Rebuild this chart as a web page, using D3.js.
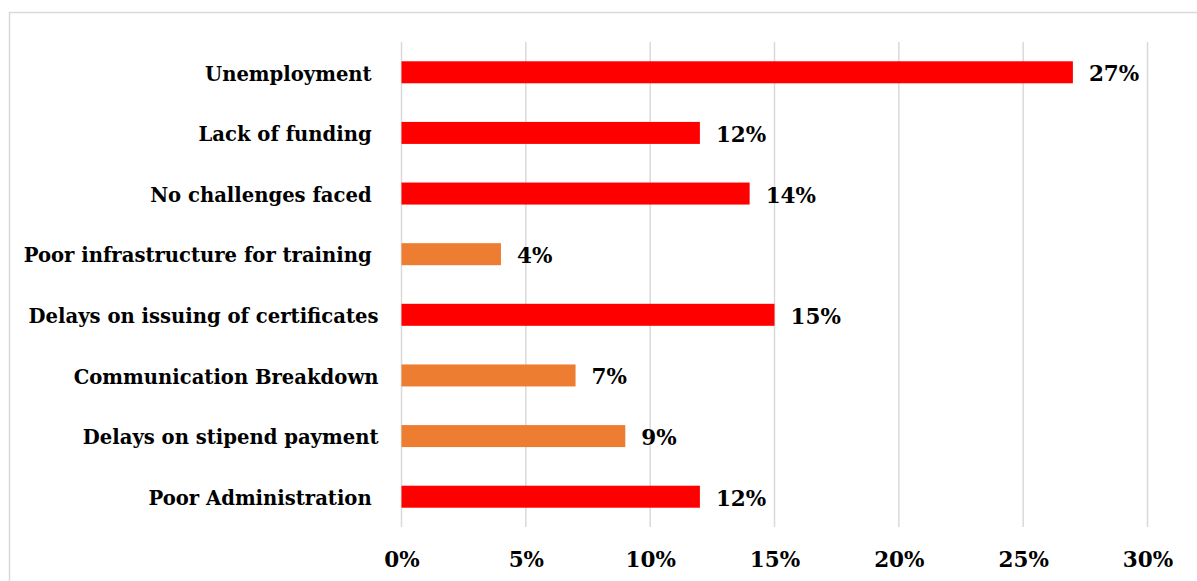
<!DOCTYPE html>
<html>
<head>
<meta charset="utf-8">
<script src="https://cdn.jsdelivr.net/npm/d3@7"></script>
<style>
  html, body { margin: 0; padding: 0; background: #fff; }
  svg { display: block; }
  text { font-family: "DejaVu Serif", "Liberation Serif", serif; font-weight: bold; fill: #000; white-space: pre; }
</style>
</head>
<body>
<svg id="chart" width="1197" height="581"></svg>
<script>
// Challenges reported, share of respondents
const categories = [
  "Unemployment ",
  "Lack of funding ",
  "No challenges faced ",
  "Poor infrastructure for training ",
  "Delays on issuing of certificates",
  "Communication Breakdown",
  "Delays on stipend payment",
  "Poor Administration "
];
const values = [27, 12, 14, 4, 15, 7, 9, 12];
const barColors = ["#FF0000", "#FF0000", "#FF0000", "#ED7D31", "#FF0000", "#ED7D31", "#ED7D31", "#FF0000"];
const tickValues = [0, 5, 10, 15, 20, 25, 30];

const svg = d3.select("#chart");
const W = 1197, H = 581;
const FS_CAT = 19.6;
const FS_NUM = 21.5;

// outer frame
svg.append("rect")
  .attr("x", 9.5).attr("y", 12.5)
  .attr("width", W + 20).attr("height", H + 20)
  .attr("fill", "none").attr("stroke", "#d9d9d9").attr("stroke-width", 1.5);

const plot = { left: 401.5, right: 1147.5, top: 42, bottom: 527 };

const x = d3.scaleLinear().domain([0, 30]).range([plot.left, plot.right]);
const y = d3.scaleBand().domain(categories).range([plot.top, plot.bottom]).paddingInner(0.637).paddingOuter(0.318);

// vertical gridlines
svg.append("g").selectAll("line").data(tickValues).join("line")
  .attr("x1", d => x(d)).attr("x2", d => x(d))
  .attr("y1", plot.top).attr("y2", plot.bottom)
  .attr("stroke", "#d9d9d9").attr("stroke-width", 1.5);

// bars
svg.append("g").selectAll("rect").data(values).join("rect")
  .attr("x", x(0))
  .attr("y", (d, i) => y(categories[i]))
  .attr("width", d => x(d) - x(0))
  .attr("height", y.bandwidth())
  .attr("fill", (d, i) => barColors[i]);

// value labels
svg.append("g").selectAll("text").data(values).join("text")
  .attr("x", d => x(d) + 16)
  .attr("y", (d, i) => y(categories[i]) + y.bandwidth() / 2)
  .attr("dy", "0.42em")
  .attr("font-size", FS_NUM)
  .text(d => d + "%");

// category axis
const yAxis = d3.axisLeft(y).tickSize(0).tickPadding(23);
const gy = svg.append("g").attr("transform", `translate(${plot.left},0)`).call(yAxis);
gy.select(".domain").remove();
gy.selectAll("text")
  .attr("font-size", FS_CAT)
  .attr("font-family", null)
  .attr("fill", "#000")
  .attr("dy", "0.42em");

// value axis
const xAxis = d3.axisBottom(x).tickValues(tickValues).tickSize(0).tickPadding(0).tickFormat(d => d + "%");
const gx = svg.append("g").attr("transform", `translate(0,${plot.bottom})`).call(xAxis);
gx.select(".domain").remove();
gx.selectAll("text")
  .attr("font-size", FS_NUM)
  .attr("font-family", null)
  .attr("fill", "#000")
  .attr("y", 40)
  .attr("dy", 0);
</script>
</body>
</html>
